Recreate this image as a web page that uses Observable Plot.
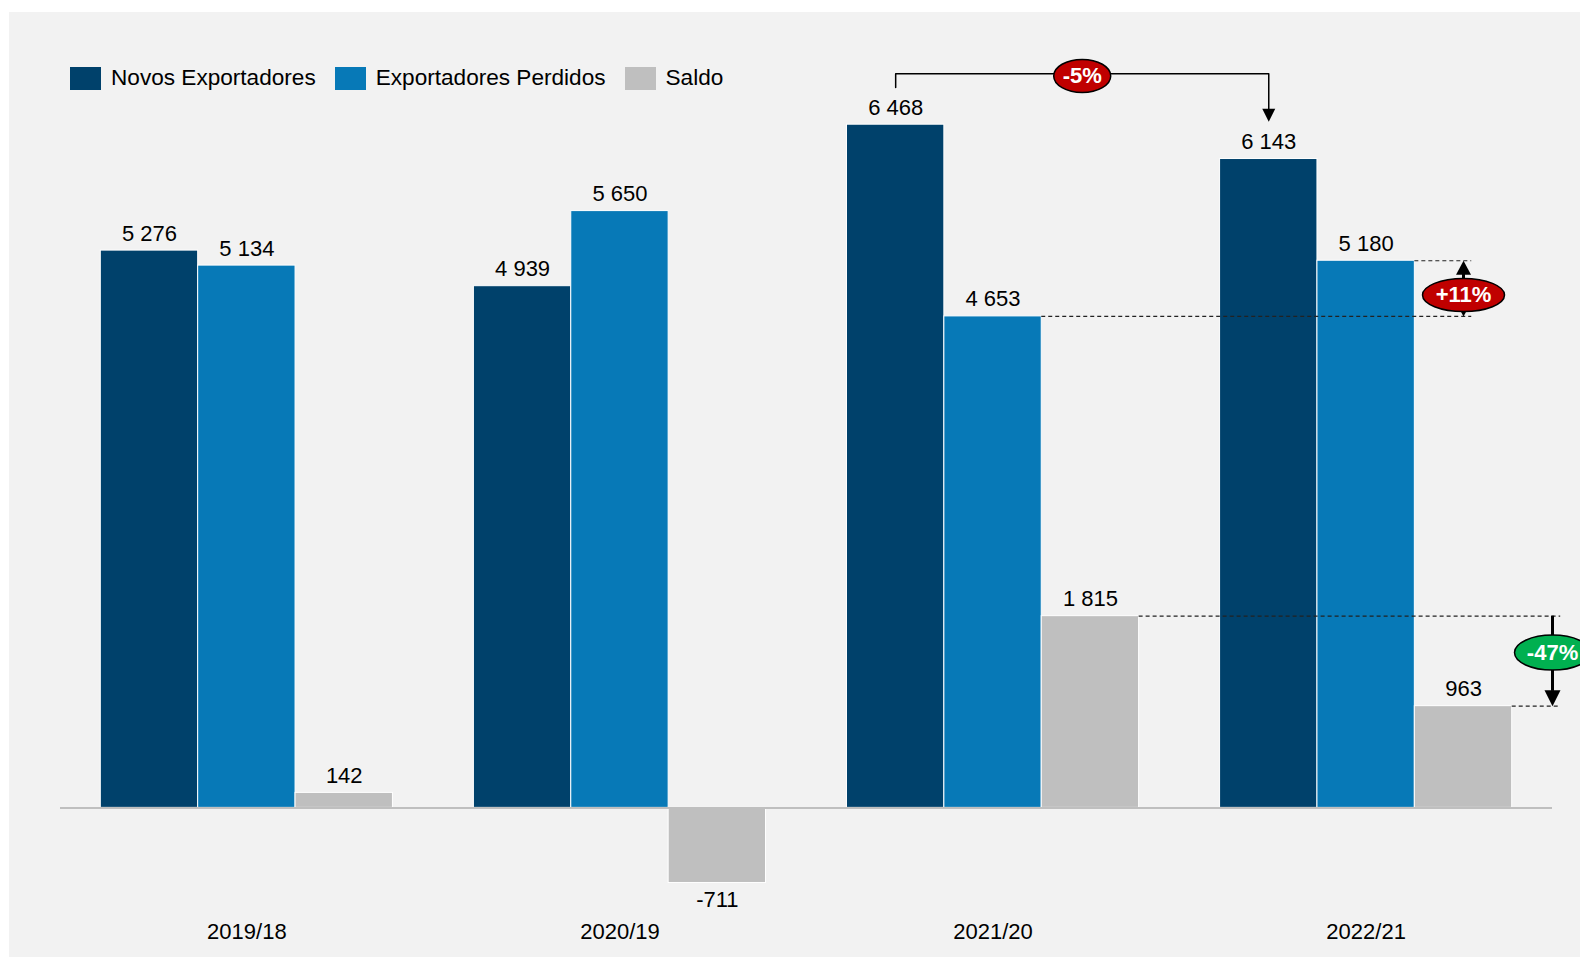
<!DOCTYPE html>
<html>
<head>
<meta charset="utf-8">
<script src="https://cdn.jsdelivr.net/npm/d3@7"></script>
<script src="https://cdn.jsdelivr.net/npm/@observablehq/plot@0.6"></script>
<style>
  html, body { margin: 0; padding: 0; background: #ffffff; overflow: hidden; }
  body { width: 1580px; height: 957px; position: relative; font-family: "Liberation Sans", Arial, sans-serif; }
  #panel { position: absolute; left: 9px; top: 12px; right: 0; bottom: 0; background: #f2f2f2; }
  #chart { position: absolute; left: 0; top: 0; }
  #legend { position: absolute; left: 70px; top: 65px; display: flex; align-items: center; font-size: 22.6px; color: #000; }
  #legend .item { display: flex; align-items: center; margin-right: 19px; }
  #legend .sw { width: 31px; height: 23px; margin-right: 10px; }
</style>
</head>
<body>
<div id="panel"></div>
<div id="chart"></div>
<div id="legend"></div>
<script>
// ---- data ----
const years = ["2019/18", "2020/19", "2021/20", "2022/21"];
const series = ["Novos Exportadores", "Exportadores Perdidos", "Saldo"];
const novos = [5276, 4939, 6468, 6143];
const perdidos = [5134, 5650, 4653, 5180];
const saldo = [142, -711, 1815, 963];
const colors = ["#00416b", "#0779b7", "#bfbfbf"];
const changeLabels = ["-5%", "+11%", "-47%"];
const changeColors = ["#c00000", "#c00000", "#00b050"];

// ---- layout constants (in x data units: one unit per year group) ----
const GROUP = 0.783, BAR = GROUP / 3, PAD = 0.108;
const values = [novos, perdidos, saldo];
const rows = years.flatMap((yr, i) => series.map((s, j) => ({year: yr, i, j, series: s, value: values[j][i]})));
const barX1 = d => d.i + d.j * BAR;
const barX2 = d => d.i + (d.j + 1) * BAR;
const barC = d => d.i + (d.j + 0.5) * BAR;

const fmt = d3.formatLocale({decimal: ",", thousands: " ", grouping: [3], currency: ["", ""], minus: "-"}).format(",d");

// custom symbols
function ellipse(rx, ry) {
  const k = 0.5523;
  return {draw(c) {
    c.moveTo(rx, 0);
    c.bezierCurveTo(rx, k * ry, k * rx, ry, 0, ry);
    c.bezierCurveTo(-k * rx, ry, -rx, k * ry, -rx, 0);
    c.bezierCurveTo(-rx, -k * ry, -k * rx, -ry, 0, -ry);
    c.bezierCurveTo(k * rx, -ry, rx, -k * ry, rx, 0);
    c.closePath();
  }};
}
function triDown(w, h) { return {draw(c) { c.moveTo(-w / 2, -h); c.lineTo(w / 2, -h); c.lineTo(0, 0); c.closePath(); }}; }
function triUp(w, h) { return {draw(c) { c.moveTo(-w / 2, h); c.lineTo(w / 2, h); c.lineTo(0, 0); c.closePath(); }}; }

// annotation anchors
const xNovos2021 = 2 + 0.5 * BAR, xNovos2022 = 3 + 0.5 * BAR;
const xBracketMid = (xNovos2021 + xNovos2022) / 2;
const bracketTop = 6950, bracketStart = 6820, bracketEnd = 6495;
const x11 = 3 + 2.5 * BAR;           // +11% arrow
const x47 = 3 + GROUP + PAD;         // -47% arrow (frame right edge)
const dashEnd11 = x11 + 0.022, dashEnd47 = x47 + 0.022;

const dashed = [
  {y: perdidos[3], x1: 3 + 2 * BAR, x2: dashEnd11},
  {y: perdidos[2], x1: 2 + 2 * BAR, x2: dashEnd11},
  {y: saldo[2], x1: 2 + 3 * BAR, x2: dashEnd47},
  {y: saldo[3], x1: 3 + 3 * BAR, x2: dashEnd47}
];
const bracket = [
  {x: xNovos2021, y: bracketStart},
  {x: xNovos2021, y: bracketTop},
  {x: xNovos2022, y: bracketTop},
  {x: xNovos2022, y: bracketEnd + 90}
];
const ellipses = [
  {x: xBracketMid, y: 6930, rx: 28.5, ry: 16.5},
  {x: x11, y: 4855, rx: 41, ry: 16.5},
  {x: x47, y: 1470, rx: 38, ry: 17.5}
];

const font = "Liberation Sans, Arial, sans-serif";

const marks = [
  Plot.rect(rows, {x1: barX1, x2: barX2, y1: d => 0, y2: "value", fill: "series", stroke: "#ffffff", strokeWidth: 1}),
  Plot.ruleY([0], {stroke: "#bfbfbf", strokeWidth: 2}),
  Plot.text(rows.filter(d => d.value >= 0), {x: barC, y: "value", text: d => fmt(d.value), dy: -17, fontSize: 22, fill: "#000"}),
  Plot.text(rows.filter(d => d.value < 0), {x: barC, y: "value", text: d => fmt(d.value), dy: 17, fontSize: 22, fill: "#000"}),
  Plot.text(years, {x: (d, i) => i + GROUP / 2, frameAnchor: "bottom", dy: 25, text: d => d, fontSize: 22, fill: "#000"}),
  Plot.ruleY(dashed, {y: "y", x1: "x1", x2: "x2", stroke: "#222222", strokeWidth: 1.1, strokeDasharray: "4,3"}),
  // -5% bracket
  Plot.line(bracket, {x: "x", y: "y", stroke: "#000", strokeWidth: 1.5}),
  Plot.dot([{x: xNovos2022, y: bracketEnd}], {x: "x", y: "y", symbol: triDown(13, 13), fill: "#000", stroke: "none"}),
  // +11% double arrow
  Plot.ruleX([x11], {y1: perdidos[2] + 60, y2: perdidos[3] - 120, stroke: "#000", strokeWidth: 3}),
  Plot.dot([{x: x11, y: perdidos[3]}], {x: "x", y: "y", symbol: triUp(15, 14), fill: "#000", stroke: "none"}),
  Plot.dot([{x: x11, y: perdidos[2]}], {x: "x", y: "y", symbol: triDown(13, 12), fill: "#000", stroke: "none"}),
  // -47% arrow
  Plot.ruleX([x47], {y1: saldo[2], y2: saldo[3] + 140, stroke: "#000", strokeWidth: 3}),
  Plot.dot([{x: x47, y: saldo[3]}], {x: "x", y: "y", symbol: triDown(16, 16), fill: "#000", stroke: "none"}),
  // ellipses with percentage labels
  ...ellipses.map((e, k) => Plot.dot([e], {x: "x", y: "y", symbol: ellipse(e.rx, e.ry), fill: changeColors[k], stroke: "#000", strokeWidth: 1.5})),
  Plot.text(ellipses, {x: "x", y: "y", text: (d, i) => changeLabels[i], fill: "#fff", fontWeight: "bold", fontSize: 22})
];

const chart = Plot.plot({
  width: 1580,
  height: 957,
  marginLeft: 60,
  marginRight: 28,
  marginTop: 68,
  marginBottom: 44,
  style: {background: "transparent", fontFamily: font, overflow: "visible"},
  x: {domain: [-PAD, 3 + GROUP + PAD], axis: null},
  y: {domain: [-1000, 7000], axis: null},
  color: {domain: series, range: colors},
  marks
});
document.getElementById("chart").appendChild(chart);

// HTML legend
const legend = document.getElementById("legend");
series.forEach((s, j) => {
  const item = document.createElement("div");
  item.className = "item";
  const sw = document.createElement("div");
  sw.className = "sw";
  sw.style.background = colors[j];
  const label = document.createElement("span");
  label.textContent = s;
  item.appendChild(sw);
  item.appendChild(label);
  legend.appendChild(item);
});
</script>
</body>
</html>
